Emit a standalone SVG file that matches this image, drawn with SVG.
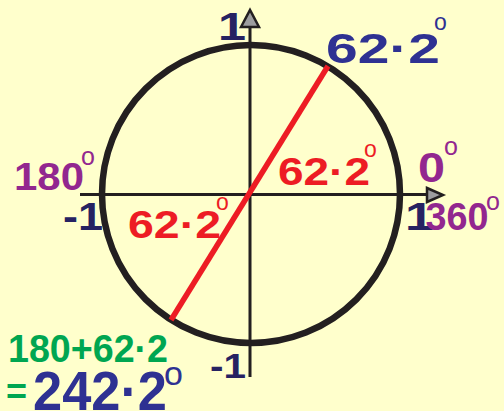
<svg xmlns="http://www.w3.org/2000/svg" width="504" height="411" viewBox="0 0 504 411">
<style>
text{font-family:"Liberation Sans",Arial,sans-serif;font-weight:bold}
.deg{font-weight:normal}
.nav{fill:#262262}
.blu{fill:#2e3192}
.pur{fill:#92278f}
.red{fill:#ed1c24}
.grn{fill:#00a651}
.ax{stroke:#231f20;stroke-width:3;fill:none}
.ah{fill:#9d9d9f;stroke:#231f20;stroke-width:2.5;stroke-linejoin:miter}
</style>
<rect width="504" height="411" fill="#ffffcc"/>
<g id="circle">
<circle cx="251" cy="194" r="149" fill="none" stroke="#231f20" stroke-width="6.5"/>
</g>
<g id="connectors">
<line class="ax" x1="80" y1="194.5" x2="430" y2="194.5"/>
<polygon class="ah" points="427,188 443,195 427,202"/>
<line class="ax" x1="250" y1="377" x2="250" y2="25"/>
<polygon class="ah" points="241,27 250,10 259,27"/>
<line x1="171" y1="320" x2="328" y2="66" stroke="#ed1c24" stroke-width="5.5"/>
</g>
<g id="labels-axis">
<text class="nav" x="218" y="40" font-size="38" textLength="28" lengthAdjust="spacingAndGlyphs">1</text>
<text class="nav" x="63" y="230" font-size="39" textLength="40" lengthAdjust="spacingAndGlyphs">-1</text>
<text class="nav" x="405" y="230" font-size="38" textLength="29" lengthAdjust="spacingAndGlyphs">1</text>
<text class="nav" x="210" y="378" font-size="35" textLength="36" lengthAdjust="spacingAndGlyphs">-1</text>
</g>
<g id="label-top">
<text class="blu" x="326" y="63" font-size="43" textLength="114" lengthAdjust="spacingAndGlyphs">62·2</text>
<text class="blu deg" x="434" y="30" font-size="23">o</text>
</g>
<g id="label-180">
<text class="pur" x="14" y="190" font-size="39" textLength="70" lengthAdjust="spacingAndGlyphs">180</text>
<text class="pur deg" x="81" y="165" font-size="25">o</text>
</g>
<g id="label-0">
<text class="pur" x="418" y="182" font-size="42" textLength="27" lengthAdjust="spacingAndGlyphs">0</text>
<text class="pur deg" x="444" y="155" font-size="25">o</text>
</g>
<g id="label-360">
<text class="pur" x="425.5" y="230" font-size="38" textLength="63" lengthAdjust="spacingAndGlyphs">360</text>
<text class="pur deg" x="486" y="210" font-size="25">o</text>
</g>
<g id="label-red-upper">
<text class="red" x="278" y="185" font-size="38" textLength="92" lengthAdjust="spacingAndGlyphs">62·2</text>
<text class="red deg" x="364" y="157" font-size="23">o</text>
</g>
<g id="label-red-lower">
<text class="red" x="128" y="238" font-size="39" textLength="93" lengthAdjust="spacingAndGlyphs">62·2</text>
<text class="red deg" x="216" y="210" font-size="23">o</text>
</g>
<g id="label-sum">
<text class="grn" x="8" y="362" font-size="38" textLength="160" lengthAdjust="spacingAndGlyphs">180+62·2</text>
<text class="grn" x="6" y="404" font-size="36">=</text>
<text class="blu" x="33" y="410" font-size="56" textLength="134" lengthAdjust="spacingAndGlyphs">242·2</text>
<text class="blu deg" x="164" y="385" font-size="34">o</text>
</g>
</svg>
